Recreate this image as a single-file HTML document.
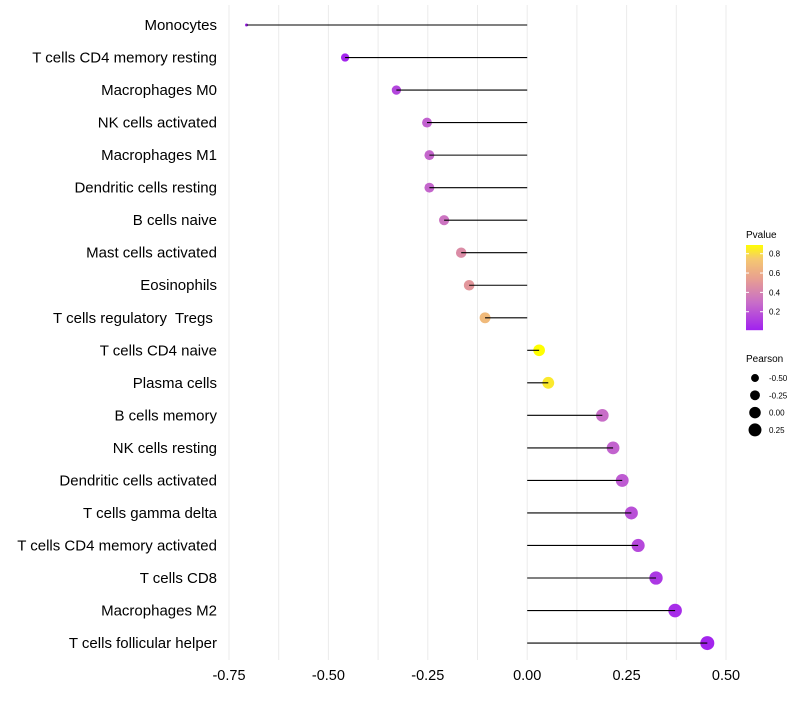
<!DOCTYPE html>
<html><head><meta charset="utf-8"><style>
body{margin:0;background:#fff;font-family:"Liberation Sans",sans-serif}
text{white-space:pre}
</style></head><body>
<svg id="chart" width="800" height="700" xmlns="http://www.w3.org/2000/svg"></svg>
<script>
const categories=["Monocytes","T cells CD4 memory resting","Macrophages M0","NK cells activated","Macrophages M1","Dendritic cells resting","B cells naive","Mast cells activated","Eosinophils","T cells regulatory  Tregs ","T cells CD4 naive","Plasma cells","B cells memory","NK cells resting","Dendritic cells activated","T cells gamma delta","T cells CD4 memory activated","T cells CD8","Macrophages M2","T cells follicular helper"];
const pearson=[-0.706,-0.458,-0.329,-0.252,-0.246,-0.246,-0.209,-0.166,-0.146,-0.106,0.030,0.053,0.189,0.216,0.239,0.262,0.279,0.324,0.372,0.453];
const pvalue=[0.01,0.03,0.15,0.25,0.27,0.27,0.33,0.45,0.5,0.68,0.9,0.84,0.3,0.26,0.23,0.19,0.16,0.1,0.06,0.03];
const xTicks=[-0.75,-0.5,-0.25,0,0.25,0.5];
const xTickLabels=["-0.75","-0.50","-0.25","0.00","0.25","0.50"];
const pTicks=[0.2,0.4,0.6,0.8];
const sizeLegend=[-0.5,-0.25,0,0.25];

const NS="http://www.w3.org/2000/svg";
const svg=document.getElementById('chart');
function el(t,a,p){const e=document.createElementNS(NS,t);for(const k in a)e.setAttribute(k,a[k]);(p||svg).appendChild(e);return e;}
const x=v=>527.2+v*397.6;
const y=i=>25+i*32.53;
const stops=[[0.01,[160,32,240]],[0.3,[200,110,200]],[0.55,[232,160,144]],[0.75,[245,200,112]],[0.9,[255,255,0]]];
function col(p){p=Math.max(0.01,Math.min(0.9,p));for(let i=1;i<stops.length;i++){if(p<=stops[i][0]){const a=stops[i-1],b=stops[i],t=(p-a[0])/(b[0]-a[0]);return 'rgb('+a[1].map((c,j)=>Math.round(c+(b[1][j]-c)*t)).join(',')+')';}}return 'rgb(255,255,0)';}
const pmin=Math.min(...pearson),pmax=Math.max(...pearson);
const rad=v=>{const t=(v-pmin)/(pmax-pmin);return t<0.02?1.5:7*Math.sqrt(0.17+0.83*t);};

for(let v=-0.75;v<=0.5001;v+=0.125){const g=el('line',{x1:x(v),x2:x(v),y1:5,y2:660,stroke:'#ebebeb','stroke-width':1});}
xTicks.forEach((v,i)=>{const t=el('text',{x:x(v),y:680,'text-anchor':'middle','font-size':14.5,fill:'#000'});t.textContent=xTickLabels[i];});
categories.forEach((c,i)=>{
 const t=el('text',{x:217,y:y(i)+5,'text-anchor':'end','font-size':15,fill:'#000'});t.textContent=c;
 
 const d=el('circle',{cx:x(pearson[i]),cy:y(i),r:rad(pearson[i]),fill:col(pvalue[i])});
 
 const l=el('line',{x1:x(pearson[i]),x2:x(0),y1:y(i),y2:y(i),stroke:'#000','stroke-width':1.1});
 
});
const lt=el('text',{x:746,y:238,'font-size':10});lt.textContent='Pvalue';
const py=p=>245+(0.89-p)*96.7;
for(let k=0;k<85;k++){const p=0.89-k/96.7;const r=el('rect',{x:746,y:245+k,width:17,height:1.2,fill:col(p)});}
pTicks.forEach(p=>{const t=el('text',{x:769,y:py(p)+3,'font-size':8});t.textContent=p.toFixed(1);
 el('line',{x1:746,x2:749,y1:py(p),y2:py(p),stroke:'#fff'});el('line',{x1:760,x2:763,y1:py(p),y2:py(p),stroke:'#fff'});});
const st=el('text',{x:746,y:362,'font-size':10});st.textContent='Pearson';
sizeLegend.forEach((v,i)=>{const cy=378+i*17.3;const c=el('circle',{cx:755,cy:cy,r:rad(v),fill:'#000'});
 const t=el('text',{x:769,y:cy+3,'font-size':8});t.textContent=v.toFixed(2);});
</script>
</body></html>
